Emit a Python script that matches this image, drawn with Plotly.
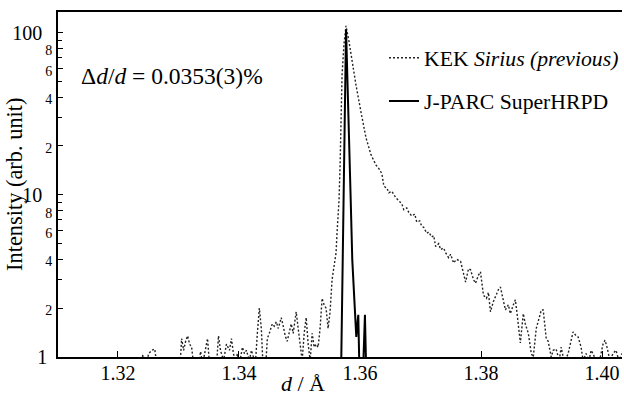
import plotly.graph_objects as go

# KEK Sirius (previous) - dotted profile, d in Angstrom, intensity arb. unit
kek_d = [1.32362, 1.32412, 1.32461, 1.32510, 1.32560, 1.32609, 1.32642, 1.32724,
         1.33021, 1.33053, 1.33086, 1.33119, 1.33152, 1.33185, 1.33218, 1.33251,
         1.33317, 1.33366, 1.33399, 1.33448, 1.33481, 1.33514, 1.33580, 1.33630,
         1.33662, 1.33695, 1.33745, 1.33794, 1.33844, 1.33876, 1.33909, 1.33942,
         1.33975, 1.34008, 1.34058, 1.34090, 1.34123, 1.34173, 1.34206, 1.34239,
         1.34271, 1.34304, 1.34337, 1.34370, 1.34403, 1.34436, 1.34469, 1.34502,
         1.34551, 1.34584, 1.34617, 1.34650, 1.34699, 1.34732, 1.34765, 1.34798,
         1.34831, 1.34864, 1.34897, 1.34946, 1.34979, 1.35012, 1.35045, 1.35078,
         1.35111, 1.35144, 1.35177, 1.35210, 1.35243, 1.35276, 1.35308, 1.35341,
         1.35374, 1.35407, 1.35440, 1.35473, 1.35506, 1.35539, 1.35572, 1.35605,
         1.35621, 1.35654, 1.35671, 1.35687, 1.35704, 1.35736, 1.35769, 1.35819,
         1.35868, 1.35934, 1.36016, 1.36099, 1.36181, 1.36263, 1.36313, 1.36362,
         1.36395, 1.36444, 1.36477, 1.36527, 1.36592, 1.36642, 1.36691, 1.36724,
         1.36773, 1.36806, 1.36856, 1.36905, 1.36938, 1.36987, 1.37020, 1.37053,
         1.37103, 1.37136, 1.37185, 1.37218, 1.37251, 1.37300, 1.37333, 1.37382,
         1.37415, 1.37465, 1.37498, 1.37547, 1.37596, 1.37662, 1.37712, 1.37745,
         1.37794, 1.37827, 1.37876, 1.37909, 1.37959, 1.37991, 1.38041, 1.38090,
         1.38123, 1.38156, 1.38205, 1.38238, 1.38288, 1.38321, 1.38370, 1.38403,
         1.38452, 1.38485, 1.38535, 1.38568, 1.38600, 1.38650, 1.38699, 1.38732,
         1.38782, 1.38831, 1.38864, 1.38913, 1.38963, 1.38996, 1.39028, 1.39078,
         1.39111, 1.39160, 1.39193, 1.39242, 1.39292, 1.39325, 1.39358, 1.39391,
         1.39440, 1.39489, 1.39522, 1.39572, 1.39605, 1.39654, 1.39687, 1.39736,
         1.39786, 1.39819, 1.39851, 1.39901, 1.39967, 1.40016, 1.40049, 1.40082,
         1.40131, 1.40181, 1.40230, 1.40279, 1.40329]
kek_i = [0.8, 1.03, 0.9, 1.05, 1.1, 1.12, 0.9, 0.8,
         0.8, 1.3, 1.1, 1.25, 1.35, 1.2, 1.15, 0.9,
         0.8, 1.08, 0.9, 1.1, 1.3, 0.9, 0.95, 0.9,
         1.35, 1.1, 0.95, 1.2, 1.1, 1.3, 1.05, 0.95,
         1.05, 0.9, 1.15, 1.05, 1.1, 0.95, 1.1, 1.0,
         0.9, 1.4, 2.0, 1.5, 0.8, 0.8, 1.3, 1.4,
         1.6, 1.55, 1.65, 1.5, 1.75, 1.55, 1.35, 1.25,
         1.45, 1.6, 1.4, 1.9, 1.5, 1.2, 0.95, 1.4,
         1.75, 1.2, 0.95, 1.4, 1.15, 1.2, 1.15, 1.5,
         2.3, 2.1, 2.0, 1.5, 1.9, 3.0, 3.6, 4.4,
         5.8, 9.3, 15, 30, 55, 85, 110, 88,
         66, 47.5, 32.5, 22.5, 17.7, 15.3, 14.5, 13.5,
         11.3, 11.0, 10.3, 10.5, 9.6, 9.2, 8.8, 8.1,
         8.3, 7.8, 7.4, 7.6, 6.8, 6.9, 6.4, 6.3,
         5.8, 5.9, 5.5, 5.6, 4.8, 5.0, 4.6, 4.7,
         4.4, 4.1, 4.3, 3.8, 4.0, 3.9, 3.3, 2.9,
         3.5, 3.45, 3.0, 2.85, 3.2, 3.35, 2.4, 2.3,
         2.5, 1.9, 2.2, 2.35, 2.6, 2.7, 2.2, 1.95,
         2.1, 1.85, 2.1, 2.25, 1.8, 1.22, 1.85, 1.6,
         1.4, 1.05, 1.0, 1.5, 1.75, 1.95, 1.95, 1.3,
         1.25, 1.0, 1.1, 1.12, 0.95, 1.15, 1.0, 0.95,
         1.05, 1.3, 1.43, 1.35, 1.33, 1.15, 0.95, 1.05,
         0.95, 1.1, 1.05, 0.95, 0.98, 1.2, 1.27, 1.15,
         0.95, 1.05, 1.1, 0.95, 1.05]

# J-PARC SuperHRPD - solid profile
hrpd_d = [1.35680, 1.35690, 1.35770, 1.35847, 1.35873, 1.35939, 1.35972, 1.35995,
          1.36050, 1.36082, 1.36107]
hrpd_i = [0.5, 0.9, 105, 9.3, 3.97, 1.33, 1.82, 0.7,
          0.8, 1.82, 0.7]

x_ticks = [1.32, 1.34, 1.36, 1.38, 1.40]
x_tick_text = ["1.32", "1.34", "1.36", "1.38", "1.40"]
y_major = [1, 2, 4, 6, 8, 10, 20, 40, 60, 80, 100]
y_major_text = ["1&nbsp;", "2", "4", "6", "8", "10&nbsp;&nbsp;", "2", "4", "6", "8", "100&nbsp;&nbsp;"]
y_minor = [3, 5, 7, 9, 30, 50, 70, 90]

FONT = "Liberation Serif"
small = '<span style="font-size:14px">{}</span>'
y_text = [t if "nbsp" in t else small.format(t) for t in y_major_text]

fig = go.Figure()
fig.add_trace(go.Scatter(
    x=kek_d, y=kek_i, mode="lines",
    name="KEK <i>Sirius (previous)</i>",
    line=dict(color="#222222", width=1.4, dash="2px,2px"),
    legendgroup="a",
))
fig.add_trace(go.Scatter(
    x=hrpd_d, y=hrpd_i, mode="lines",
    name="J-PARC SuperHRPD",
    line=dict(color="#000000", width=2),
    legendgroup="b",
))

fig.update_layout(
    width=624, height=398,
    margin=dict(l=58, r=0, t=12, b=41),
    paper_bgcolor="white", plot_bgcolor="white",
    font=dict(family=FONT, size=20, color="black"),
    showlegend=True,
    legend=dict(
        x=0.578, y=0.927, xanchor="left", yanchor="top",
        font=dict(family=FONT, size=21.7, color="black"),
        bgcolor="rgba(0,0,0,0)", tracegroupgap=12,
        traceorder="grouped", itemwidth=30,
    ),
    xaxis=dict(
        range=[1.3101, 1.4033],
        tickvals=x_ticks, ticktext=x_tick_text,
        ticks="inside", ticklen=6, tickwidth=1.2, tickcolor="black",
        showline=True, linecolor="black", linewidth=1.5, mirror=True,
        showgrid=False, zeroline=False,
        tickfont=dict(family=FONT, size=20),
        ticklabelstandoff=-3,
    ),
    yaxis=dict(
        type="log", range=[0, 2.127],
        tickvals=y_major, ticktext=y_text,
        ticks="inside", ticklen=5, tickwidth=1.2, tickcolor="black",
        minor=dict(tickvals=y_minor, ticks="inside", ticklen=4, tickcolor="black", tickwidth=1),
        showline=True, linecolor="black", linewidth=1.5, mirror=False,
        showgrid=False, zeroline=False,
        tickfont=dict(family=FONT, size=20),
        ticklabelstandoff=0,
    ),
    annotations=[
        dict(text="Intensity (arb. unit)", textangle=-90, xref="paper", yref="paper",
             x=-0.076, y=0.499, xanchor="center", yanchor="middle", showarrow=False,
             font=dict(family=FONT, size=22.4)),
        dict(text="<i>d</i> / Å", xref="paper", yref="paper",
             x=0.435, y=-0.076, xanchor="center", yanchor="middle", showarrow=False,
             font=dict(family=FONT, size=22)),
        dict(text="Δ<i>d</i>/<i>d</i> = 0.0353(3)%", xref="paper", yref="paper",
             x=0.038, y=0.815, xanchor="left", yanchor="middle", showarrow=False,
             font=dict(family=FONT, size=23.5)),
    ],
)

fig.write_html("out.html")
